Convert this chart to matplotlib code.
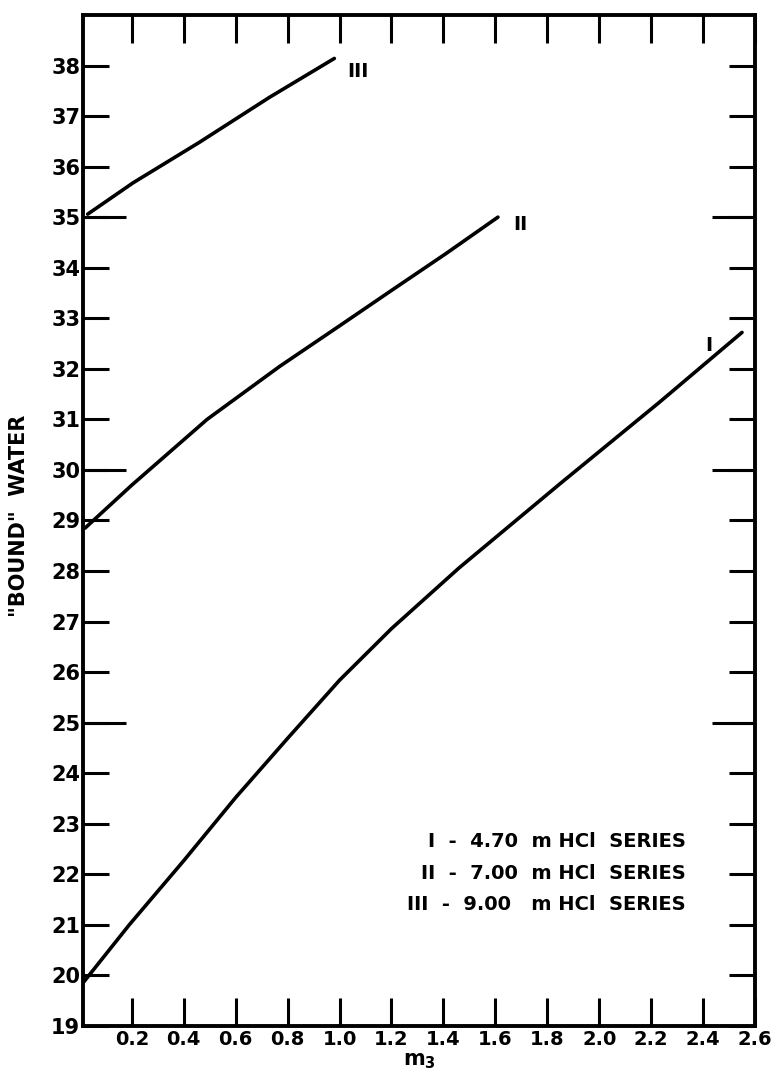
import matplotlib
matplotlib.use("Agg")
import matplotlib.pyplot as plt
import numpy as np

# ── Curves: "bound" water vs m3 for three HCl series ─────────────────────────
m3_I = [0.01, 0.19, 0.40, 0.60, 0.80, 1.00, 1.20, 1.46, 1.85, 2.23, 2.55]
bw_I = [19.84, 21.00, 22.27, 23.52, 24.69, 25.84, 26.86, 28.06, 29.73, 31.33, 32.72]

m3_II = [0.02, 0.20, 0.49, 0.77, 1.00, 1.20, 1.41, 1.61]
bw_II = [28.85, 29.70, 31.00, 32.05, 32.85, 33.55, 34.28, 35.00]

m3_III = [0.03, 0.205, 0.46, 0.73, 0.98]
bw_III = [35.06, 35.68, 36.48, 37.37, 38.14]

curve_tags = ["I", "II", "III"]
tag_pos = [(2.41, 32.46), (1.67, 34.86), (1.03, 37.88)]

legend_lines = [
    "I  -  4.70  m HCl  SERIES",
    "II  -  7.00  m HCl  SERIES",
    "III  -  9.00   m HCl  SERIES",
]

x_ticks = [0.2, 0.4, 0.6, 0.8, 1.0, 1.2, 1.4, 1.6, 1.8, 2.0, 2.2, 2.4, 2.6]
y_ticks = list(range(19, 39))
y_long = [25, 30, 35]

FONT = dict(fontweight="bold", family="DejaVu Sans")

fig = plt.figure(figsize=(7.73, 10.76), dpi=100)
ax = fig.add_axes([0.1074, 0.0465, 0.8693, 0.9396])

for xs, ys in [(m3_I, bw_I), (m3_II, bw_II), (m3_III, bw_III)]:
    ax.plot(xs, ys, color="black", linewidth=2.6, solid_capstyle="round")

for tag, (tx, ty) in zip(curve_tags, tag_pos):
    ax.text(tx, ty, tag, fontsize=14, ha="left", va="center", **FONT)

for i, line in enumerate(legend_lines):
    ax.text(0.897, 0.182 - i * 0.031, line, transform=ax.transAxes,
            fontsize=14, ha="right", va="center", **FONT)

ax.set_xlim(0.012, 2.6)
ax.set_ylim(19, 39)

ax.set_xticks(x_ticks)
ax.set_xticklabels([f"{v:.1f}" for v in x_ticks])
ax.set_yticks(y_ticks)
ax.set_yticklabels([str(v) for v in y_ticks])
ax.set_yticks(y_long, minor=True)
ax.yaxis.remove_overlapping_locs = False

ax.tick_params(axis="both", which="major", direction="in", width=2.2,
               top=True, right=True, pad=3)
ax.tick_params(axis="x", which="major", length=20, labelsize=14)
ax.tick_params(axis="y", which="major", length=19, labelsize=15, pad=2)
ax.tick_params(axis="y", which="minor", direction="in", width=2.2,
               length=31, left=True, right=True)
for lab in ax.get_xticklabels() + ax.get_yticklabels():
    lab.set_fontweight("bold")

for sp in ax.spines.values():
    sp.set_linewidth(2.8)

ax.set_xlabel("m$_\\mathbf{3}$", fontsize=15, labelpad=1, **FONT)
ax.set_ylabel('"BOUND"  WATER', fontsize=15, **FONT)
ax.yaxis.set_label_coords(-0.08, 0.505)

fig.savefig("out.png", dpi=100)
